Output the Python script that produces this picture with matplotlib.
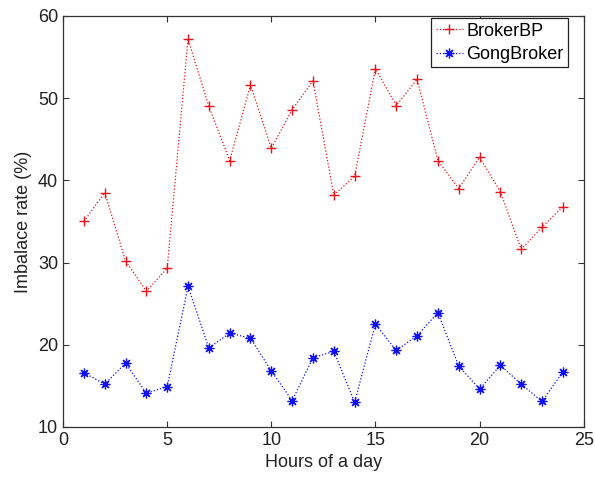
import matplotlib
matplotlib.use("Agg")
import matplotlib.pyplot as plt
import numpy as np

plt.rcParams['font.family'] = ['Liberation Sans', 'DejaVu Sans']

hours = np.arange(1, 25)
broker_bp = [35.0, 38.5, 30.2, 26.5, 29.3, 57.2, 49.0, 42.4, 51.6, 43.9, 48.6, 52.1,
             38.2, 40.5, 53.6, 49.1, 52.3, 42.4, 39.0, 42.8, 38.6, 31.6, 34.3, 36.8]
gong_broker = [16.6, 15.2, 17.75, 14.1, 14.9, 27.1, 19.6, 21.4, 20.8, 16.8, 13.2, 18.4,
               19.2, 13.0, 22.5, 19.3, 21.1, 23.9, 17.4, 14.6, 17.5, 15.2, 13.1, 16.7]

fig = plt.figure(figsize=(5.95, 4.84), dpi=100)
ax = fig.add_axes([0.106, 0.118, 0.875, 0.849])

dots = (0, (1, 1.6))
ax.plot(hours, broker_bp, linestyle=dots, color='#e8141c', marker='+', markersize=7,
        markeredgewidth=1.0, linewidth=0.9, label='BrokerBP')
ax.plot(hours, gong_broker, linestyle=dots, color='#1010f0', marker=(8, 2, 0), markersize=7,
        markeredgewidth=0.9, linewidth=0.9, label='GongBroker')

ax.set_xlim(0, 25)
ax.set_ylim(10, 60)
ax.set_xticks([0, 5, 10, 15, 20, 25])
ax.set_yticks([10, 20, 30, 40, 50, 60])
ax.tick_params(direction='in', labelsize=13, length=4, top=True, right=True,
               color='#333333', labelcolor='#222222')
for s in ax.spines.values():
    s.set_color('#333333')
    s.set_linewidth(0.9)

ax.set_xlabel('Hours of a day', fontsize=13, color='#222222')
ax.set_ylabel('Imbalace rate (%)', fontsize=13, color='#222222')

leg = ax.legend(loc='upper right', bbox_to_anchor=(0.9546, 0.9628),
                bbox_transform=fig.transFigure, fontsize=13, fancybox=False,
                framealpha=1, edgecolor='#222222', borderaxespad=0, handlelength=1.5,
                borderpad=0.25, labelspacing=0.35, handletextpad=0.2)
leg.get_frame().set_linewidth(0.9)

fig.savefig('out.png', dpi=100)
